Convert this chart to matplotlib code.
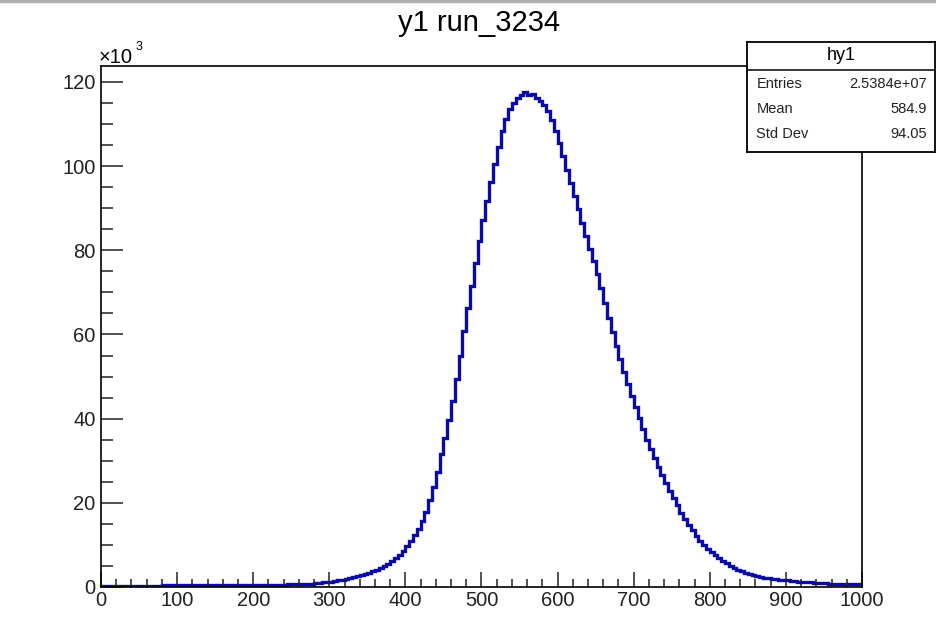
import numpy as np
import matplotlib.pyplot as plt
from matplotlib.ticker import MultipleLocator
from matplotlib.lines import Line2D

plt.rcParams['font.family'] = ['Liberation Sans', 'DejaVu Sans']

# histogram contents (x10^3 counts per bin), bins 5 wide from 0 to 1000
bin_edges = np.arange(0, 1001, 5)
counts_k = [
    0.30, 0.30, 0.31, 0.30, 0.31, 0.32, 0.31, 0.32, 0.33, 0.32,
    0.33, 0.34, 0.33, 0.34, 0.35, 0.35, 0.36, 0.35, 0.36, 0.37,
    0.37, 0.38, 0.38, 0.39, 0.39, 0.40, 0.40, 0.41, 0.41, 0.42,
    0.42, 0.43, 0.43, 0.44, 0.45, 0.45, 0.46, 0.47, 0.47, 0.48,
    0.49, 0.50, 0.51, 0.52, 0.53, 0.54, 0.55, 0.57, 0.58, 0.60,
    0.62, 0.65, 0.68, 0.72, 0.77, 0.83, 0.90, 1.00, 1.10, 1.20,
    1.30, 1.42, 1.56, 1.72, 1.90, 2.10, 2.32, 2.58, 2.85, 3.10,
    3.40, 3.75, 4.15, 4.60, 5.00, 5.50, 6.10, 6.80, 7.70, 8.60,
    9.7, 10.9, 12.3, 13.8, 15.6, 17.8, 20.6, 23.7, 27.4, 31.6,
    35.4, 39.6, 44.2, 49.5, 55.0, 60.8, 66.2, 71.6, 77.0, 82.3,
    87.2, 91.7, 96.2, 100.6, 104.5, 108.3, 111.3, 113.5, 115.0, 116.2,
    116.9, 117.6, 116.9, 117.2,
    116.2, 115.6, 114.6, 113.0, 111.0, 108.3, 105.4, 102.4, 99.2, 96.0,
    92.9, 89.8, 86.6, 83.5, 80.4, 77.4, 74.3, 71.0, 67.6, 64.0,
    60.6, 57.2, 54.1, 51.1, 48.2, 45.5, 42.7, 40.1, 37.5, 35.0,
    32.7, 30.6, 28.6, 26.6, 24.8, 22.9, 21.1, 19.4, 17.7, 16.2,
    14.8, 13.5, 12.2, 11.0, 10.0, 9.1, 8.3, 7.6, 6.9, 6.2,
    5.6, 5.0, 4.5, 4.1, 3.7, 3.35, 3.05, 2.8, 2.6, 2.4,
    2.25, 2.1, 1.95, 1.85, 1.75, 1.65, 1.55, 1.45, 1.38, 1.3,
    1.22, 1.15, 1.08, 1.02, 0.96, 0.9, 0.86, 0.82, 0.78, 0.75,
    0.72, 0.69, 0.66, 0.64, 0.62, 0.6,
]

stat_names = ['Entries', 'Mean', 'Std Dev']
stat_values = ['2.5384e+07', '584.9', '94.05']

fig = plt.figure(figsize=(9.37, 6.37), dpi=100)
ax = fig.add_axes([101/937, 50/637, 761/937, 521/637])

ax.stairs(counts_k, bin_edges, color='#0a0aa8', lw=2.4)

ax.set_xlim(0, 1000)
ax.set_ylim(0, 123.8)
ax.xaxis.set_major_locator(MultipleLocator(100))
ax.xaxis.set_minor_locator(MultipleLocator(20))
ax.yaxis.set_major_locator(MultipleLocator(20))
ax.yaxis.set_minor_locator(MultipleLocator(5))
ax.tick_params(axis='both', which='both', direction='in', top=False, right=False,
               labelsize=14.5, colors='#222222', width=1.1)
ax.tick_params(axis='x', which='major', length=11, pad=3)
ax.tick_params(axis='x', which='minor', length=6)
ax.tick_params(axis='y', which='major', length=16, pad=4)
ax.tick_params(axis='y', which='minor', length=8.5)
for s in ax.spines.values():
    s.set_linewidth(1.2)

fig.text(479/937, 1 - 23/637, 'y1 run_3234', ha='center', va='center', fontsize=21)
fig.text(99/937, 1 - 63/637, '\u00d710', ha='left', va='baseline', fontsize=14.5)
fig.text(136/937, 1 - 50/637, '3', ha='left', va='baseline', fontsize=9)

# thin gray border at the top of the canvas
fig.add_artist(Line2D([0, 1], [0.998, 0.998], transform=fig.transFigure,
                      color='#b0b0b0', lw=2.5))

# stats box
sb = fig.add_axes([747/937, 1 - 152/637, 188/937, 110/637])
sb.set_xticks([])
sb.set_yticks([])
sb.set_xlim(0, 1)
sb.set_ylim(0, 1)
for s in sb.spines.values():
    s.set_linewidth(1.3)
sb.axhline(1 - 28/110, color='black', lw=1.1)
sb.text(0.5, 0.873, 'hy1', ha='center', va='center', fontsize=13)
rows_y = [0.618, 0.39, 0.164]
for name, val, yy in zip(stat_names, stat_values, rows_y):
    sb.text(0.05, yy, name, ha='left', va='center', fontsize=10.5, color='#222222')
    sb.text(0.955, yy, val, ha='right', va='center', fontsize=10.5, color='#222222')

fig.savefig('out.png', dpi=100)
